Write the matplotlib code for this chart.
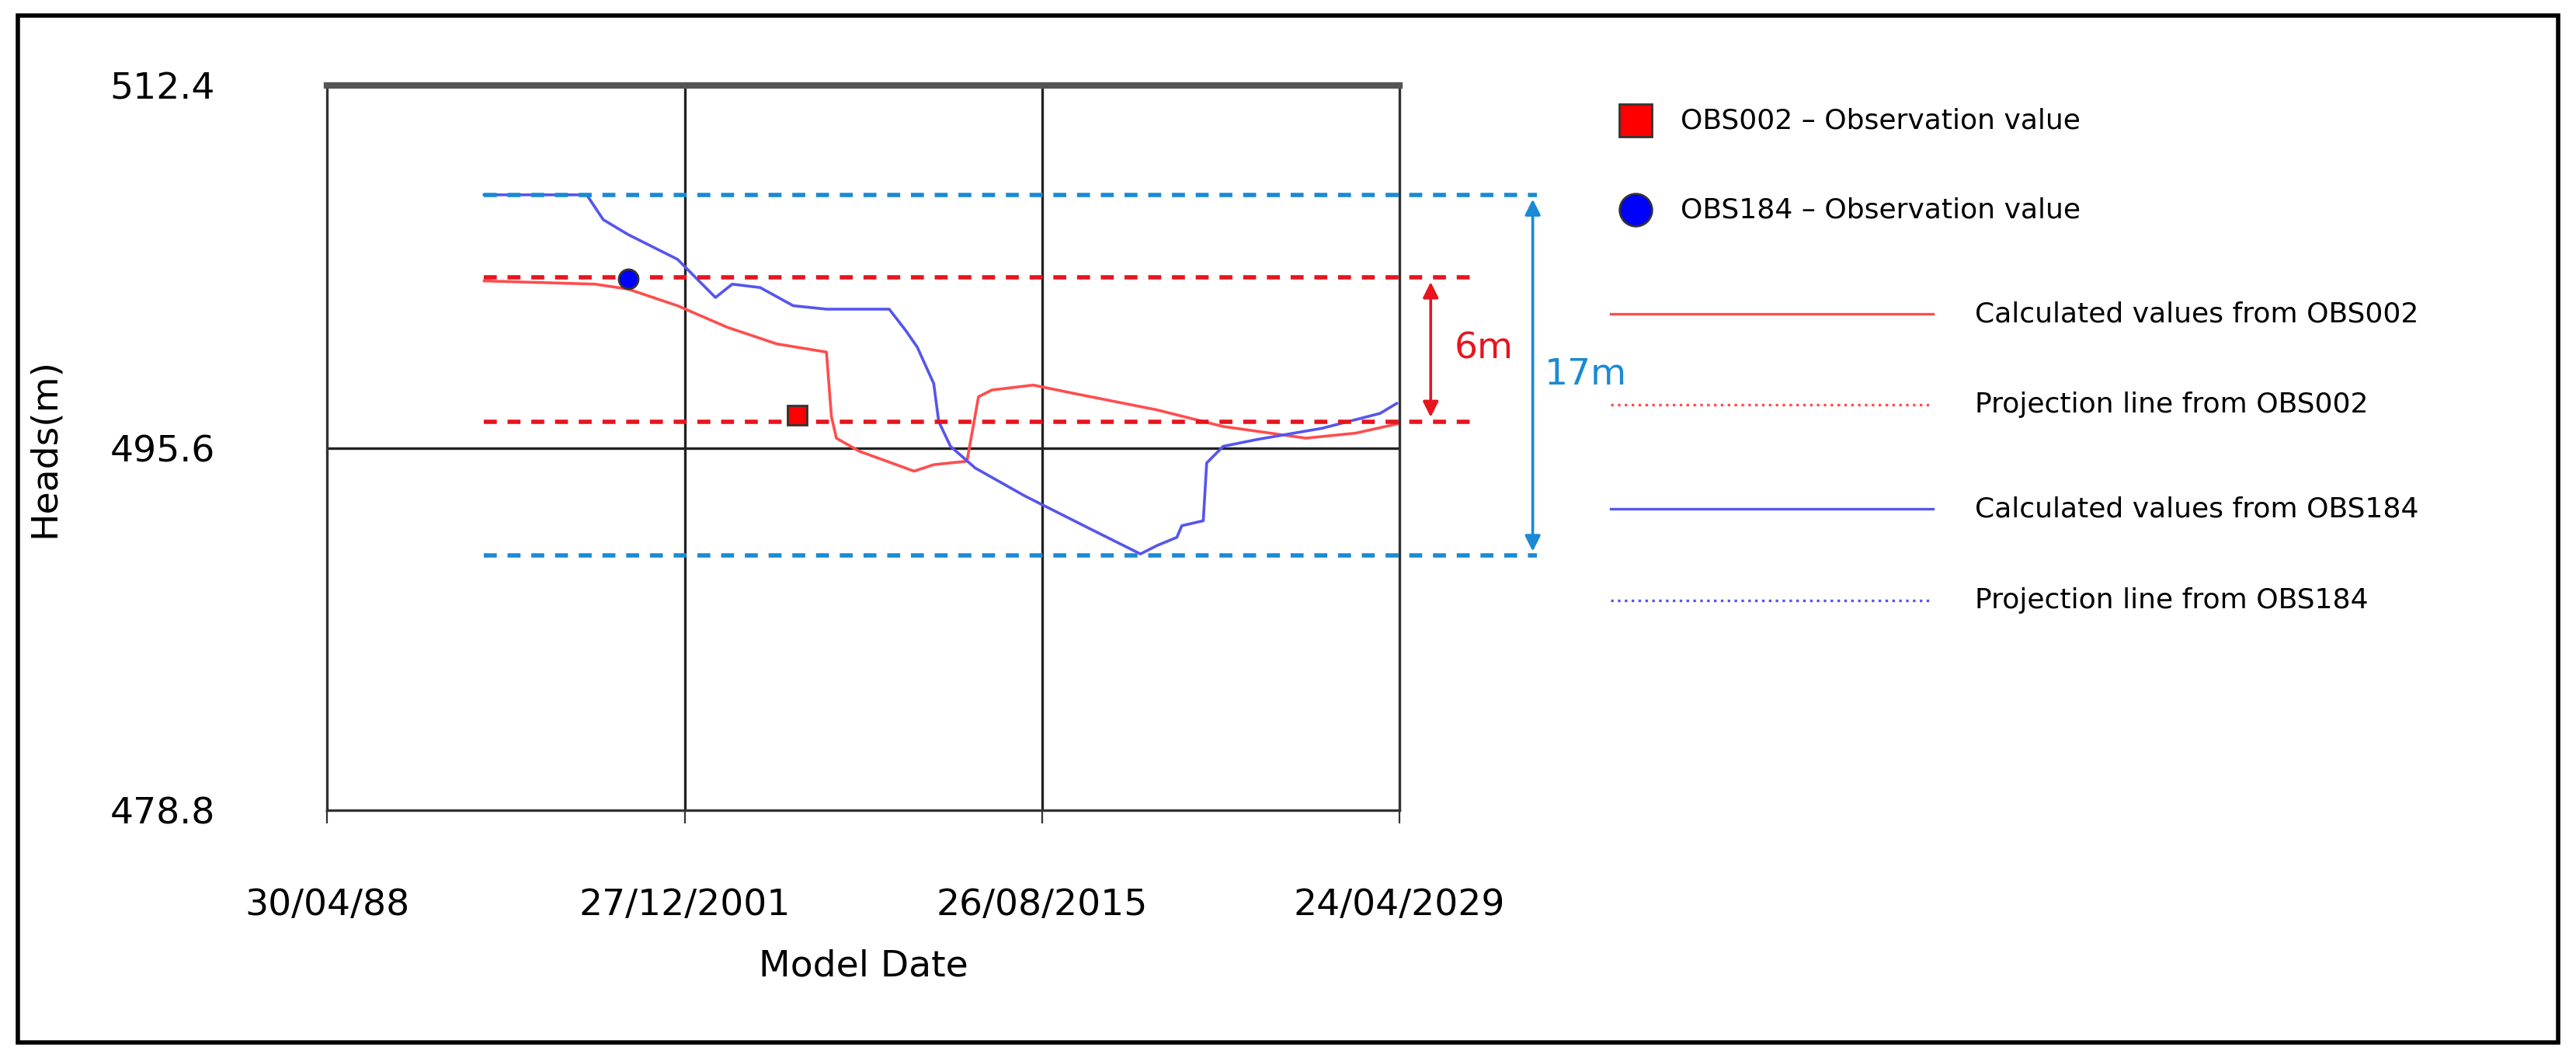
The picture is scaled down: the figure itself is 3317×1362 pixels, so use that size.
import matplotlib
matplotlib.use("Agg")
import matplotlib.pyplot as plt
from matplotlib.patches import Rectangle

red_x = [1994.33,1998.56,1999.83,2001.72,2003.62,2005.51,2007.41,2007.60,2007.79,2008.67,2010.76,2011.51,2012.78,2013.22,2013.73,2015.31,2016.88,2020.04,2022.57,2025.73,2027.62,2029.33]
red_y = [503.35,503.20,502.97,502.2,501.2,500.43,500.05,497.06,496.06,495.45,494.53,494.83,494.99,497.98,498.29,498.52,498.13,497.37,496.6,496.06,496.29,496.75]
blue_x = [1994.33,1998.25,1998.88,1999.83,2001.72,2003.17,2003.81,2004.88,2006.14,2007.41,2009.81,2010.44,2010.88,2011.51,2011.70,2012.15,2013.09,2014.99,2017.51,2019.41,2020.04,2020.80,2020.99,2021.81,2021.94,2022.57,2023.83,2026.36,2028.57,2029.2]
blue_y = [507.34,507.34,506.19,505.5,504.35,502.58,503.2,503.04,502.2,502.04,502.04,501.05,500.28,498.59,496.83,495.68,494.68,493.38,491.84,490.69,491.08,491.46,492.0,492.23,494.91,495.68,495.99,496.52,497.21,497.67]
obs002 = (2006.27, 497.14)
obs184 = (1999.83, 503.43)
red_proj = [503.5, 496.83]
blue_proj = [507.34, 490.61]
proj_start = 1994.33
red_proj_end = 2032.24
blue_proj_end = 2034.57
xticks = [1988.33, 2001.99, 2015.65, 2029.31]
xtick_labels = ["30/04/88", "27/12/2001", "26/08/2015", "24/04/2029"]
yticks = [478.8, 495.6, 512.4]
ytick_labels = ["478.8", "495.6", "512.4"]

RED = "#ff4d4d"; BLUE = "#5555ee"; DRED = "#e8141e"; DBLUE = "#1a8ad4"
fig = plt.figure(figsize=(16.585, 6.81), dpi=200)
fig.patches.append(Rectangle((0.007, 0.015), 0.986, 0.97, transform=fig.transFigure,
                             fill=False, lw=2, ec="black"))
ax = fig.add_axes([0.127, 0.234, 0.4163, 0.685])
ax.set_xlim(xticks[0], xticks[-1]); ax.set_ylim(yticks[0], yticks[-1])
for s in ["left", "right", "bottom"]:
    ax.spines[s].set_color("#333333"); ax.spines[s].set_linewidth(1.2)
ax.spines["top"].set_color("#555555"); ax.spines["top"].set_linewidth(3)
ax.set_xticks(xticks, xtick_labels, fontsize=17)
ax.set_yticks(yticks, ytick_labels, fontsize=17)
ax.tick_params(axis="x", length=6, pad=30, color="#333333")
ax.tick_params(axis="y", length=0, pad=52)
for x in xticks[1:3]:
    ax.axvline(x, color="#222222", lw=1.2)
ax.axhline(yticks[1], color="#222222", lw=1.2)
ax.set_xlabel("Model Date", fontsize=17, labelpad=12)
ax.set_ylabel("Heads(m)", fontsize=17, labelpad=22)

ax.plot(red_x, red_y, color=RED, lw=1.3)
ax.plot(blue_x, blue_y, color=BLUE, lw=1.3)
for y in red_proj:
    ax.plot([proj_start, red_proj_end], [y, y], color=DRED, ls=(0, (3, 2.5)), lw=2, clip_on=False)
for y in blue_proj:
    ax.plot([proj_start, blue_proj_end], [y, y], color=DBLUE, ls=(0, (3, 2.5)), lw=2, clip_on=False)
ax.plot(*obs002, marker="s", ms=9, mfc="#ff0000", mec="#333333", ls="none")
ax.plot(*obs184, marker="o", ms=9, mfc="#0000ff", mec="#333333", ls="none")
ax.annotate("", xy=(2030.5, red_proj[0]), xytext=(2030.5, red_proj[1]),
            arrowprops=dict(arrowstyle="<|-|>", color=DRED, lw=1.3, mutation_scale=15), annotation_clip=False)
ax.text(2031.4, 500.2, "6m", color=DRED, fontsize=17, va="center", clip_on=False)
ax.annotate("", xy=(2034.4, blue_proj[0]), xytext=(2034.4, blue_proj[1]),
            arrowprops=dict(arrowstyle="<|-|>", color=DBLUE, lw=1.3, mutation_scale=15), annotation_clip=False)
ax.text(2034.85, 499.0, "17m", color=DBLUE, fontsize=17, va="center", clip_on=False)

# legend
W, H = 1559, 640
def fx(p): return p / W
def fy(p): return 1 - p / H
fig.lines.append(plt.Line2D([fx(990)], [fy(73)], marker="s", ms=15, mfc="#ff0000", mec="#333333", transform=fig.transFigure))
fig.lines.append(plt.Line2D([fx(990)], [fy(127)], marker="o", ms=15, mfc="#0000ff", mec="#333333", transform=fig.transFigure))
fig.text(fx(1017), fy(73), "OBS002 – Observation value", fontsize=13, va="center")
fig.text(fx(1017), fy(127), "OBS184 – Observation value", fontsize=13, va="center")
items = [("Calculated values from OBS002", RED, "-", 190),
         ("Projection line from OBS002", RED, ":", 245),
         ("Calculated values from OBS184", BLUE, "-", 308),
         ("Projection line from OBS184", BLUE, ":", 363)]
for lab, c, ls, yy in items:
    fig.lines.append(plt.Line2D([fx(975), fx(1170)], [fy(yy), fy(yy)], color=c, ls=ls, lw=1.2, transform=fig.transFigure))
    fig.text(fx(1195), fy(yy), lab, fontsize=13, va="center")

fig.savefig("out.png", dpi=200)
